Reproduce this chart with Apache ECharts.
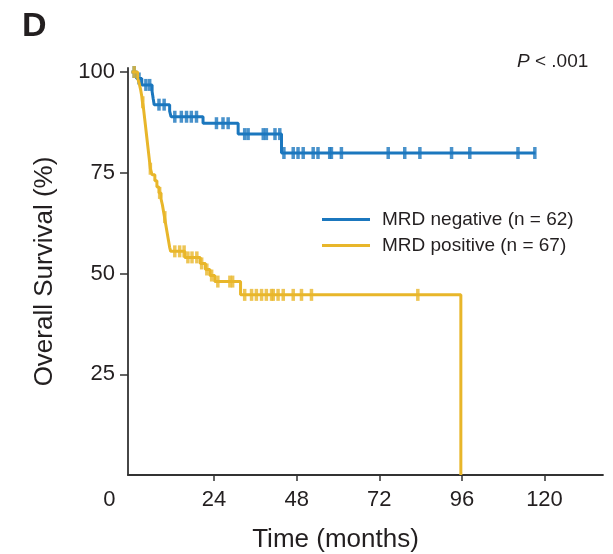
<!DOCTYPE html>
<html>
<head>
<meta charset="utf-8">
<script src="https://cdn.jsdelivr.net/npm/echarts@6/dist/echarts.min.js"></script>
<style>
html,body{margin:0;padding:0;background:#fff;}
#c{width:613px;height:554px;}
</style>
</head>
<body>
<div id="c"></div>
<script>
// ---- data ----
var seriesNames = ['MRD negative (n = 62)', 'MRD positive (n = 67)'];
var xTickLabels = [0, 24, 48, 72, 96, 120];
var xTicks = [24, 48, 72, 96, 120];
var yTickLabels = [25, 50, 75, 100];

// Kaplan-Meier steps: [time (months), survival (%)]
var negSteps = [[0,100],[1.5,98.4],[3.0,96.8],[6.0,95.2],[6.3,93.5],[6.6,91.9],[11.1,90.3],[11.5,88.9],[20.8,87.3],[31.0,84.6],[43.6,79.9],[117.4,79.9]];
var negCensor = [[0.8,100],[2.2,98.4],[4.2,96.8],[5.3,96.8],[8.0,91.9],[9.5,91.9],[12.6,88.9],[14.5,88.9],[16.0,88.9],[17.4,88.9],[18.9,88.9],[24.7,87.3],[26.6,87.3],[28.1,87.3],[32.9,84.6],[33.9,84.6],[38.3,84.6],[39.2,84.6],[41.7,84.6],[43.1,84.6],[44.3,79.9],[47.0,79.9],[48.4,79.9],[49.9,79.9],[52.8,79.9],[54.2,79.9],[57.6,79.9],[58.1,79.9],[61.0,79.9],[74.6,79.9],[79.4,79.9],[83.8,79.9],[93.0,79.9],[98.3,79.9],[112.3,79.9],[117.2,79.9]];

var posSteps = [[0,100],[1.8,98.5],[2.3,97],[2.7,95.5],[3.0,94],[3.2,92.5],[3.5,91],[3.7,89.5],[3.9,88],[4.1,86.5],[4.3,85],[4.5,83.5],[4.7,82],[4.9,80.5],[5.1,79],[5.3,77.5],[5.5,76],[6.0,74.5],[6.8,73],[7.4,71.5],[8.0,70],[8.6,68.5],[9.0,67],[9.3,65.5],[9.6,64],[9.9,62.5],[10.2,61],[10.5,59.5],[10.8,58],[11.1,56.5],[11.4,55.5],[15.5,54],[20.0,52.5],[21.5,51],[22.8,49.5],[24.2,48],[31.7,44.7],[95.7,0]];
var posCensor = [[0.8,100],[3.3,92.5],[5.5,76],[8.2,70],[9.7,64],[12.6,55.5],[14.0,55.5],[15.3,55.5],[16.4,54],[17.6,54],[19.0,54],[20.4,52.5],[21.9,51],[23.3,49.5],[25.1,48],[28.6,48],[29.4,48],[32.9,44.7],[34.9,44.7],[36.3,44.7],[37.8,44.7],[39.2,44.7],[40.7,44.7],[41.2,44.7],[42.6,44.7],[44.1,44.7],[47.0,44.7],[49.4,44.7],[52.3,44.7],[83.2,44.7]];

var BLUE = '#1B77BE';
var YELLOW = '#E8B62A';
var TXT = '#231f20';
var FONT = "'Liberation Sans', Arial, Helvetica, sans-serif";

var chart = echarts.init(document.getElementById('c'), null, {renderer: 'canvas'});
chart.setOption({
  animation: false,
  backgroundColor: '#fff',
  textStyle: {fontFamily: FONT, color: TXT},
  grid: {left: 128, right: 10, top: 68, bottom: 79, containLabel: false, outerBoundsMode: 'none'},
  graphic: [
    {type: 'text', left: 22, top: 10, style: {text: 'D', font: "bold 34px " + FONT, fill: TXT}},
    {type: 'text', left: 517, top: 52, style: {
      text: '{i|P} < .001',
      rich: {i: {fontStyle: 'italic', fontSize: 19, fontFamily: FONT, fill: TXT}},
      fontSize: 19, fontFamily: FONT, fill: TXT}}
  ],
  legend: {
    orient: 'vertical', left: 322, top: 210, padding: 0,
    data: seriesNames,
    icon: 'rect', itemWidth: 48, itemHeight: 3, itemGap: 7,
    textStyle: {fontSize: 19, lineHeight: 19, color: TXT, fontFamily: FONT, padding: [0,0,0,7]}
  },
  xAxis: {
    type: 'value', min: -1, max: 137,
    name: 'Time (months)', nameLocation: 'middle', nameGap: 52,
    nameTextStyle: {fontSize: 26, color: TXT, fontFamily: FONT, padding: [0, 60, 0, 0]},
    axisLine: {show: true, onZero: false, lineStyle: {color: '#333', width: 1.8}},
    axisTick: {show: true, length: 6, inside: false, customValues: xTicks, lineStyle: {color: '#333', width: 1.5}},
    axisLabel: {
      customValues: xTickLabels, fontSize: 22, color: TXT, margin: 14, fontFamily: FONT,
      formatter: function (v) { return v === 0 ? '{z|0}' : String(v); },
      rich: {z: {fontSize: 22, color: TXT, fontFamily: FONT, padding: [0, 44, 0, 0]}}
    },
    splitLine: {show: false}
  },
  yAxis: {
    type: 'value', min: 0, max: 101,
    name: 'Overall Survival (%)', nameLocation: 'middle', nameGap: 70, nameRotate: 90,
    nameTextStyle: {fontSize: 26, color: TXT, fontFamily: FONT},
    axisLine: {show: true, onZero: false, lineStyle: {color: '#333', width: 1.8}},
    axisTick: {show: true, length: 8, inside: false, customValues: yTickLabels, lineStyle: {color: '#333', width: 1.5}},
    axisLabel: {customValues: yTickLabels, fontSize: 22, color: TXT, margin: 13, fontFamily: FONT},
    splitLine: {show: false}
  },
  series: [
    {name: seriesNames[0], type: 'line', step: 'end', data: negSteps, showSymbol: false, symbol: 'none',
     lineStyle: {color: BLUE, width: 3}, itemStyle: {color: BLUE}, z: 3},
    {name: 'negCensor', type: 'scatter', data: negCensor, symbol: 'rect', symbolSize: [3.5, 12],
     itemStyle: {color: BLUE}, z: 3},
    {name: seriesNames[1], type: 'line', step: 'end', data: posSteps, showSymbol: false, symbol: 'none',
     lineStyle: {color: YELLOW, width: 3}, itemStyle: {color: YELLOW}, z: 4},
    {name: 'posCensor', type: 'scatter', data: posCensor, symbol: 'rect', symbolSize: [3.5, 12],
     itemStyle: {color: YELLOW}, z: 4}
  ]
});
</script>
</body>
</html>
